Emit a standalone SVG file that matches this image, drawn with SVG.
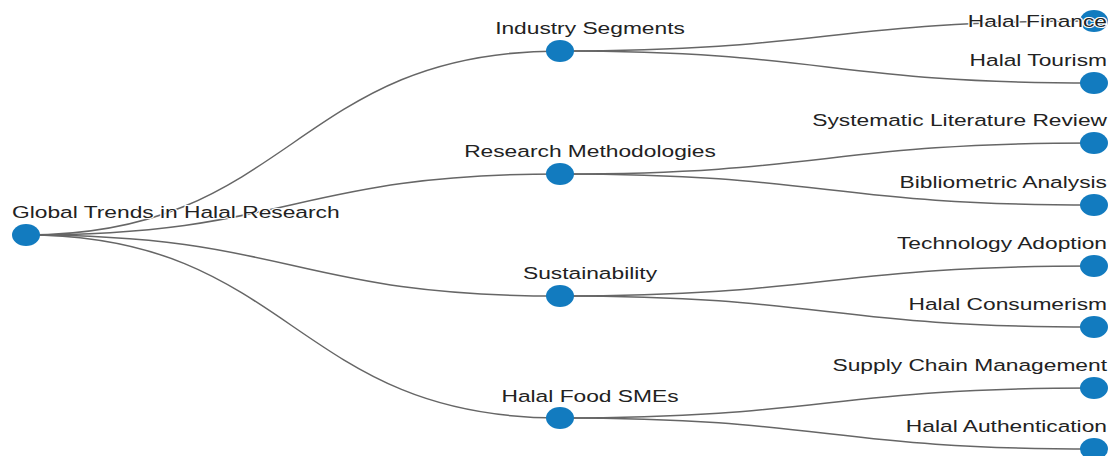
<svg xmlns="http://www.w3.org/2000/svg" width="1110" height="456" viewBox="0 0 1110 456">
<style>
.link{fill:none;stroke:#666;stroke-width:1.5}
.node ellipse{fill:#127bbf}
.node text{font-family:"Liberation Sans",Arial,sans-serif;font-size:17px;fill:#222;stroke:#fff;stroke-width:2px;paint-order:stroke}
.l1 text{text-anchor:middle}
.l2 text{text-anchor:end}
</style>
<rect width="1110" height="456" fill="#fff"/>
<g id="links">
<path class="link" d="M26,235 C293,235 293,51 560,51"/>
<path class="link" d="M26,235 C293,235 293,174 560,174"/>
<path class="link" d="M26,235 C293,235 293,296 560,296"/>
<path class="link" d="M26,235 C293,235 293,418 560,418"/>
<path class="link" d="M560,51 C827,51 827,21 1094,21"/>
<path class="link" d="M560,51 C827,51 827,83 1094,83"/>
<path class="link" d="M560,174 C827,174 827,143 1094,143"/>
<path class="link" d="M560,174 C827,174 827,205 1094,205"/>
<path class="link" d="M560,296 C827,296 827,266 1094,266"/>
<path class="link" d="M560,296 C827,296 827,327 1094,327"/>
<path class="link" d="M560,418 C827,418 827,388 1094,388"/>
<path class="link" d="M560,418 C827,418 827,449 1094,449"/>
</g>
<g id="root" class="node"><ellipse cx="26" cy="235" rx="14" ry="11"/><text transform="translate(12,218) scale(1.34,1)">Global Trends in Halal Research</text></g>
<g id="n-industry" class="node l1"><ellipse cx="560" cy="51" rx="14" ry="11"/><text transform="translate(590,34) scale(1.34,1)">Industry Segments</text></g>
<g id="n-research" class="node l1"><ellipse cx="560" cy="174" rx="14" ry="11"/><text transform="translate(590,157) scale(1.34,1)">Research Methodologies</text></g>
<g id="n-sustain" class="node l1"><ellipse cx="560" cy="296" rx="14" ry="11"/><text transform="translate(590,279) scale(1.34,1)">Sustainability</text></g>
<g id="n-smes" class="node l1"><ellipse cx="560" cy="418" rx="14" ry="11"/><text transform="translate(590,402) scale(1.34,1)">Halal Food SMEs</text></g>
<g id="n-finance" class="node l2"><ellipse cx="1094" cy="21" rx="14" ry="11"/><text transform="translate(1107,27) scale(1.34,1)">Halal Finance</text></g>
<g id="n-tourism" class="node l2"><ellipse cx="1094" cy="83" rx="14" ry="11"/><text transform="translate(1107,66) scale(1.34,1)">Halal Tourism</text></g>
<g id="n-slr" class="node l2"><ellipse cx="1094" cy="143" rx="14" ry="11"/><text transform="translate(1107,126) scale(1.34,1)">Systematic Literature Review</text></g>
<g id="n-biblio" class="node l2"><ellipse cx="1094" cy="205" rx="14" ry="11"/><text transform="translate(1107,188) scale(1.34,1)">Bibliometric Analysis</text></g>
<g id="n-tech" class="node l2"><ellipse cx="1094" cy="266" rx="14" ry="11"/><text transform="translate(1107,249) scale(1.34,1)">Technology Adoption</text></g>
<g id="n-consumer" class="node l2"><ellipse cx="1094" cy="327" rx="14" ry="11"/><text transform="translate(1107,310) scale(1.34,1)">Halal Consumerism</text></g>
<g id="n-supply" class="node l2"><ellipse cx="1094" cy="388" rx="14" ry="11"/><text transform="translate(1107,371) scale(1.34,1)">Supply Chain Management</text></g>
<g id="n-auth" class="node l2"><ellipse cx="1094" cy="449" rx="14" ry="11"/><text transform="translate(1107,432) scale(1.34,1)">Halal Authentication</text></g>
</svg>
